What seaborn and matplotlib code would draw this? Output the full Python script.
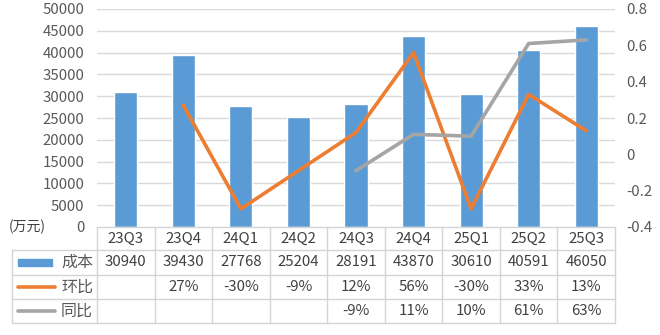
import numpy as np
import pandas as pd
import matplotlib
matplotlib.use("Agg")
import matplotlib.pyplot as plt
from matplotlib.lines import Line2D
from matplotlib.patches import Rectangle
from matplotlib.transforms import blended_transform_factory
from matplotlib.ticker import FuncFormatter, MultipleLocator
import seaborn as sns

# Quarterly cost (万元) with quarter-on-quarter and year-on-year change
quarters = ["23Q3", "23Q4", "24Q1", "24Q2", "24Q3", "24Q4", "25Q1", "25Q2", "25Q3"]
cost = [30940, 39430, 27768, 25204, 28191, 43870, 30610, 40591, 46050]
qoq = [np.nan, 0.27, -0.30, -0.09, 0.12, 0.56, -0.30, 0.33, 0.13]
yoy = [np.nan, np.nan, np.nan, np.nan, -0.09, 0.11, 0.10, 0.61, 0.63]
row_names = ["成本", "环比", "同比"]
unit_label = "(万元)"

BLUE = "#5B9BD5"
ORANGE = "#ED7D31"
GRAY = "#A5A5A5"
GRID = "#D9D9D9"
BORDER = "#D4D4D4"
TICK_TXT = "#595959"
CELL_TXT = "#404040"
FS = 10.8

sns.set_theme(style="white")
plt.rcParams["font.family"] = ["Noto Sans CJK SC", "DejaVu Sans"]
plt.rcParams["axes.unicode_minus"] = False

W, H = 660, 335
fig = plt.figure(figsize=(W / 100, H / 100), dpi=100)
fig.patch.set_facecolor("white")


def fx(px):
    return px / W


def fy(py):
    return 1 - py / H


left_px, right_px, top_px, bottom_px = 97, 615, 9, 227
ax = fig.add_axes([fx(left_px), fy(bottom_px), fx(right_px) - fx(left_px),
                   fy(top_px) - fy(bottom_px)])

pos = np.arange(len(quarters))
df = pd.DataFrame({"pos": pos, "quarter": quarters, "cost": cost,
                   "qoq": qoq, "yoy": yoy})

sns.barplot(data=df, x="pos", y="cost", color=BLUE, saturation=1,
            width=0.4, ax=ax, zorder=2)
ax.set_xlim(-0.5, len(quarters) - 0.5)
ax.set_ylim(0, 50000)
ax.yaxis.set_major_locator(MultipleLocator(5000))
ax.set_xticks([])
ax.set_xlabel("")
ax.set_ylabel("")
ax.grid(False)
for v in range(5000, 50001, 5000):
    ax.axhline(v, color=GRID, lw=1.0, zorder=0)
for s in ax.spines.values():
    s.set_visible(False)
ax.tick_params(axis="y", length=0, pad=9, labelsize=FS, labelcolor=TICK_TXT)

ax2 = ax.twinx()
sns.lineplot(data=df, x="pos", y="qoq", color=ORANGE, lw=2.6, ax=ax2,
             zorder=3)
sns.lineplot(data=df, x="pos", y="yoy", color=GRAY, lw=2.6, ax=ax2,
             zorder=3)
ax2.set_ylim(-0.4, 0.8)
ax2.yaxis.set_major_locator(MultipleLocator(0.2))
ax2.yaxis.set_major_formatter(FuncFormatter(lambda v, p: f"{round(v, 1):g}"))
ax2.set_xlabel("")
ax2.set_ylabel("")
ax2.grid(False)
for s in ax2.spines.values():
    s.set_visible(False)
ax2.tick_params(axis="y", length=0, pad=8, labelsize=FS, labelcolor=TICK_TXT)
ax2.set_xlim(-0.5, len(quarters) - 0.5)

# unit caption beside the zero tick
fig.text(fx(9), fy(227), unit_label, ha="left", va="center", fontsize=10,
         color=CELL_TXT)

# data table under the plot
tr = blended_transform_factory(ax.transData, fig.transFigure)
row_edges = [227, 250, 275, 299, 323]
n = len(quarters)
x0, x1 = -0.5, n - 0.5

# horizontal rules
fig.add_artist(Line2D([x0, x1], [fy(row_edges[0])] * 2, transform=tr,
                      color=BORDER, lw=1))
for yb in row_edges[1:]:
    fig.add_artist(Line2D([fx(12), fx(left_px)], [fy(yb)] * 2,
                          transform=fig.transFigure, color=BORDER, lw=1))
    fig.add_artist(Line2D([x0, x1], [fy(yb)] * 2, transform=tr,
                          color=BORDER, lw=1))
# vertical rules
fig.add_artist(Line2D([fx(12), fx(12)], [fy(row_edges[1]), fy(row_edges[-1])],
                      transform=fig.transFigure, color=BORDER, lw=1))
for i in range(n + 1):
    xb = i - 0.5
    fig.add_artist(Line2D([xb, xb], [fy(row_edges[0]), fy(row_edges[-1])],
                          transform=tr, color=BORDER, lw=1))


def row_mid(r):
    return fy((row_edges[r] + row_edges[r + 1]) / 2)


def pct(v):
    return "" if np.isnan(v) else f"{round(v * 100):.0f}%"


for i, q in enumerate(quarters):
    fig.text(i, row_mid(0), q, transform=tr, ha="center", va="center",
             fontsize=FS, color=CELL_TXT)
    fig.text(i, row_mid(1), f"{cost[i]}", transform=tr, ha="center",
             va="center", fontsize=FS, color=CELL_TXT)
    fig.text(i, row_mid(2), pct(qoq[i]), transform=tr, ha="center",
             va="center", fontsize=FS, color=CELL_TXT)
    fig.text(i, row_mid(3), pct(yoy[i]), transform=tr, ha="center",
             va="center", fontsize=FS, color=CELL_TXT)

# row headers with series keys
fig.add_artist(Rectangle((fx(18), row_mid(1) - 3.5 / H), fx(34), 7 / H,
                         transform=fig.transFigure, color=BLUE))
fig.add_artist(Line2D([fx(18), fx(55)], [row_mid(2)] * 2,
                      transform=fig.transFigure, color=ORANGE, lw=2.6))
fig.add_artist(Line2D([fx(18), fx(55)], [row_mid(3)] * 2,
                      transform=fig.transFigure, color=GRAY, lw=2.6))
for r, name in enumerate(row_names):
    fig.text(fx(93), row_mid(r + 1), name, ha="right", va="center",
             fontsize=11.5, color="#595959")

fig.savefig("out.png", dpi=100, facecolor="white")
